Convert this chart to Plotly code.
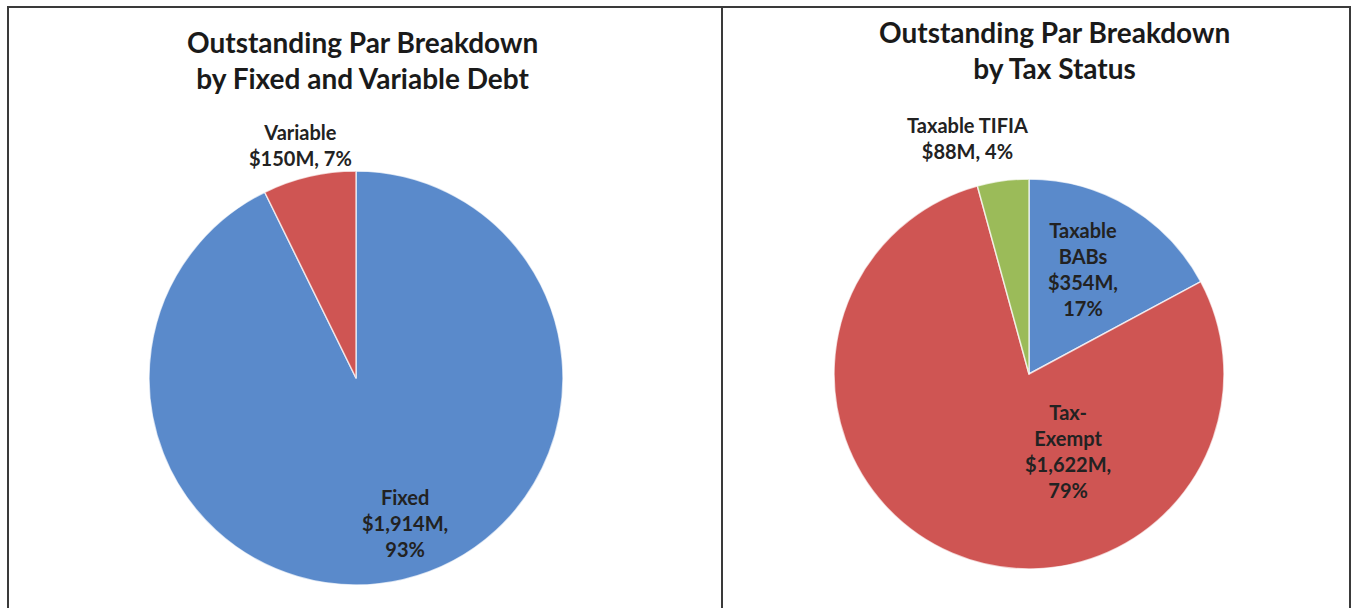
import plotly.graph_objects as go

# ---- data ----
left_labels = ["Fixed", "Variable"]
left_values = [1914, 150]
left_display = ["Fixed", "Variable"]
left_sep = [",<br>", ", "]   # line break style between value and percent

right_labels = ["Taxable BABs", "Tax-Exempt", "Taxable TIFIA"]
right_values = [354, 1622, 88]
right_display = ["Taxable<br>BABs", "Tax-<br>Exempt", "Taxable TIFIA"]
right_sep = [",<br>", ",<br>", ", "]

left_title = "Outstanding Par Breakdown<br>by Fixed and Variable Debt"
right_title = "Outstanding Par Breakdown<br>by Tax Status"

# ---- layout (label centres in px) ----
left_label_pos = [(405, 523), (300, 145)]
right_label_pos = [(1083, 269), (1068, 451), (967, 138)]

BLUE, RED, GREEN = "#5A8ACB", "#CF5553", "#9BBB59"
W, H = 1354, 608
FONT = "Lato"


def px_x(v):
    return v / W


def px_y(v):
    return 1 - v / H


def label_texts(display, values, seps):
    total = sum(values)
    return [f"{d}<br>${v:,}M{s}{round(100 * v / total)}%"
            for d, v, s in zip(display, values, seps)]


fig = go.Figure()

fig.add_trace(go.Pie(
    labels=left_labels, values=left_values, textinfo="none",
    sort=False, direction="clockwise", rotation=0,
    marker=dict(colors=[BLUE, RED], line=dict(color="rgba(255,255,255,0.7)", width=1.5)),
    domain=dict(x=[px_x(149), px_x(563)], y=[px_y(585), px_y(171)]),
    showlegend=False, hoverinfo="label+value+percent",
))

fig.add_trace(go.Pie(
    labels=right_labels, values=right_values, textinfo="none",
    sort=False, direction="clockwise", rotation=0,
    marker=dict(colors=[BLUE, RED, GREEN], line=dict(color="rgba(255,255,255,0.7)", width=1.5)),
    domain=dict(x=[px_x(834), px_x(1224)], y=[px_y(569), px_y(179)]),
    showlegend=False, hoverinfo="label+value+percent",
))

label_font = dict(family=FONT, size=20, color="#222222", weight="bold")
for txt, (lx, ly) in zip(label_texts(left_display, left_values, left_sep), left_label_pos):
    fig.add_annotation(text=txt, xref="paper", yref="paper", x=px_x(lx), y=px_y(ly),
                       xanchor="center", yanchor="middle", showarrow=False,
                       align="center", font=label_font)
for txt, (lx, ly) in zip(label_texts(right_display, right_values, right_sep), right_label_pos):
    fig.add_annotation(text=txt, xref="paper", yref="paper", x=px_x(lx), y=px_y(ly),
                       xanchor="center", yanchor="middle", showarrow=False,
                       align="center", font=label_font)

# panel borders
border = dict(color="#3a3a3a", width=2)
fig.add_shape(type="rect", xref="paper", yref="paper",
              x0=px_x(8), x1=px_x(1350), y0=px_y(640), y1=px_y(7), line=border)
fig.add_shape(type="line", xref="paper", yref="paper",
              x0=px_x(722), x1=px_x(722), y0=px_y(640), y1=px_y(7), line=border)

fig.add_annotation(text=left_title, xref="paper", yref="paper",
                   x=px_x(362), y=px_y(60), xanchor="center", yanchor="middle",
                   showarrow=False, align="center",
                   font=dict(family=FONT, size=28, color="#1a1a1a", weight="bold"))
fig.add_annotation(text=right_title, xref="paper", yref="paper",
                   x=px_x(1054), y=px_y(50), xanchor="center", yanchor="middle",
                   showarrow=False, align="center",
                   font=dict(family=FONT, size=28, color="#1a1a1a", weight="bold"))

fig.update_layout(width=W, height=H, margin=dict(l=0, r=0, t=0, b=0),
                  paper_bgcolor="white", plot_bgcolor="white")

fig.write_html("out.html", config={"displayModeBar": False},
               post_script="document.body.style.margin='0';document.body.style.overflow='hidden';")
